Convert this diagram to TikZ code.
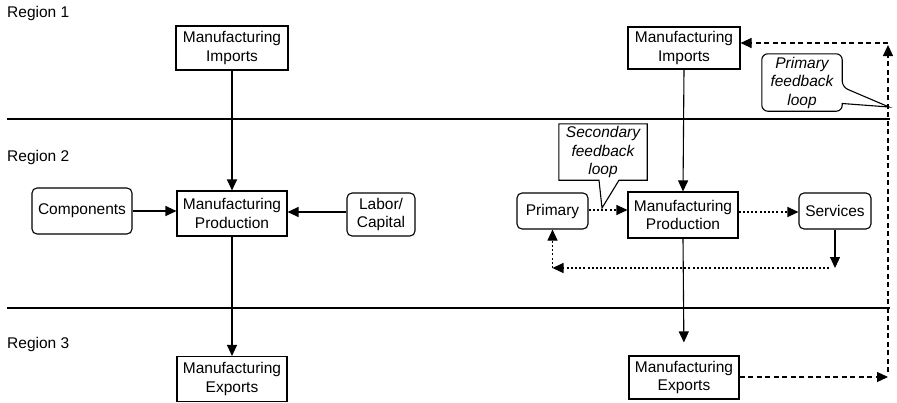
\documentclass[tikz,border=0pt]{standalone}
\usepackage{fontspec}
\setmainfont{Liberation Sans}
\usetikzlibrary{arrows.meta}

\tikzset{
    every node/.style={font=\fontsize{15.5}{18.5}\selectfont, align=center},
    mfgbox/.style={draw, line width=1.1pt, inner sep=0pt},
    roundbox/.style={draw, line width=1.1pt, inner sep=0pt, rounded corners=5pt},
    note/.style={inner sep=0pt, font=\fontsize{15.5}{18.5}\selectfont\itshape},
    region/.style={anchor=base west, inner sep=0pt},
    flow/.style={line width=1.1pt, -{Triangle[length=11pt,width=10pt]}},
    loopflow/.style={flow, dash pattern=on 2pt off 2.2pt},
    feedflow/.style={flow, dash pattern=on 5pt off 3.5pt},
}

\begin{document}
\begin{tikzpicture}[x=1pt,y=-1pt]
    \useasboundingbox (0,0) rectangle (897,402);

    % regions
    \node[region] (reg1) at (7,17) {Region 1};
    \node[region] (reg2) at (7,161) {Region 2};
    \node[region] (reg3) at (7,348) {Region 3};
    \draw[line width=1.1pt] (7,119) coordinate (lineAw) -- (890,119) coordinate (lineAe);
    \draw[line width=1.1pt] (7,308) coordinate (lineBw) -- (890,308) coordinate (lineBe);

    % left system
    \node[mfgbox, minimum width=112pt, minimum height=44pt] (impL) at (232,48) {Manufacturing\\Imports};
    \node[mfgbox, minimum width=110pt, minimum height=45pt] (prodL) at (232,213.5) {Manufacturing\\Production};
    \node[roundbox, minimum width=100pt, minimum height=46pt] (compL) at (82,211) {Components};
    \node[roundbox, minimum width=68pt, minimum height=43pt] (labL) at (381,214.5) {Labor/\\Capital};
    \node[mfgbox, minimum width=110pt, minimum height=45pt] (expL) at (232,379) {Manufacturing\\Exports};

    \draw[flow] (impL.south) -- (prodL.north);
    \draw[flow] (compL.east) -- (compL.east -| prodL.west);
    \draw[flow] ([yshift=2.5pt]labL.west) -- ([yshift=2.5pt]labL.west -| prodL.east);
    \draw[flow] (prodL.south) -- (expL.north);

    % right system
    \node[mfgbox, minimum width=112pt, minimum height=42pt] (impR) at (684,48) {Manufacturing\\Imports};
    \node[mfgbox, minimum width=110pt, minimum height=46pt] (prodR) at (683,215) {Manufacturing\\Production};
    \node[roundbox, minimum width=71pt, minimum height=36pt] (primR) at (552.5,211) {Primary};
    \node[roundbox, minimum width=72pt, minimum height=36pt] (servR) at (835,211) {Services};
    \node[mfgbox, minimum width=110pt, minimum height=43pt] (expR) at (684,377.5) {Manufacturing\\Exports};

    \coordinate (loopR) at (835,268);
    \coordinate (loopL) at (552.5,268);
    \coordinate (fbB) at (888,377);
    \coordinate (fbT) at (888,43);

    \draw[flow] (impR.south) -- (prodR.north);
    \draw[flow, shorten >=13pt] (prodR.south) -- (expR.north);
    \draw[loopflow] ([yshift=1pt]primR.east) -- ([yshift=1pt]primR.east -| prodR.west);
    \draw[loopflow] ([yshift=3pt]prodR.east) -- ([yshift=3pt]prodR.east -| servR.west);
    \draw[flow] (servR.south) -- (loopR);
    \draw[loopflow] ([xshift=-6pt]loopR) -- (loopL);
    \draw[loopflow] (loopL) -- (primR.south);
    \draw[feedflow] (expR.east |- fbB) -- (fbB);
    \draw[feedflow] ([yshift=5pt]fbB) -- ([yshift=-2pt]fbT);
    \draw[feedflow] (fbT) -- (fbT -| impR.east);

    % callouts
    \node[note, minimum width=88pt, minimum height=56pt] (secnote) at (603,152) {Secondary\\feedback\\loop};
    \coordinate (secTip) at (602,208);
    \draw[line width=1.1pt] (secnote.south west) -- (secnote.north west) -- (secnote.north east)
        -- (secnote.south east) -- ([xshift=16pt]secnote.south) -- (secTip)
        -- ([xshift=-4pt]secnote.south) -- cycle;

    \node[note, minimum width=80pt, minimum height=57pt] (primnote) at (802,82.5) {Primary\\feedback\\loop};
    \coordinate (primTip) at (889,107);
    \draw[line width=1.1pt, rounded corners=6pt] (primnote.south) -- (primnote.south west)
        -- (primnote.north west) -- (primnote.north east) -- ([yshift=-4.5pt]primnote.east)
        [sharp corners] -- (primTip) -- ([yshift=-21pt]primnote.east)
        [rounded corners=6pt] -- (primnote.south east) -- (primnote.south);
\end{tikzpicture}
\end{document}
